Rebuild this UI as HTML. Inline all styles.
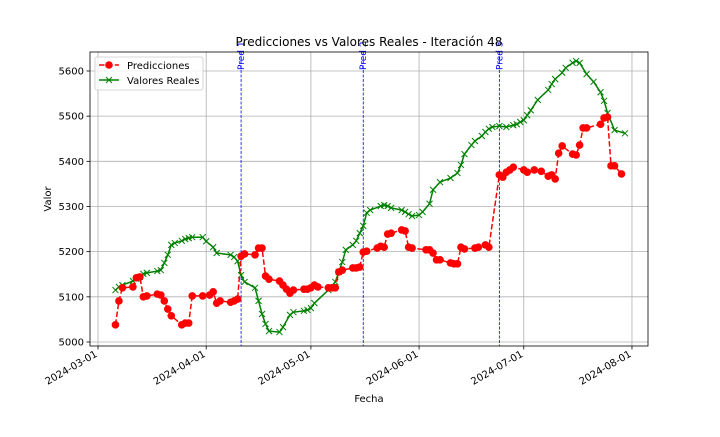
<!DOCTYPE html>
<html><head><meta charset="utf-8"><style>
body{margin:0;background:#fff}
svg{font-family:"DejaVu Sans","Liberation Sans",sans-serif}
</style></head><body>
<svg id="chart" width="720" height="432" xmlns="http://www.w3.org/2000/svg"></svg>
<script>
const predDays=[5,6,7,10,11,12,13,14,17,18,19,20,21,24,25,26,27,30,32,33,34,35,38,39,40,41,42,45,46,47,48,49,52,53,54,55,56,59,60,61,62,63,66,67,68,69,70,73,74,75,76,77,80,81,82,83,84,87,88,89,90,94,95,96,97,98,101,102,103,104,105,108,109,111,112,115,116,117,118,119,122,123,125,127,129,130,131,132,133,136,137,138,139,140,144,145,146,147,148,150];
const predVals=[5038,5091,5120,5122,5142,5144,5100,5102,5106,5104,5091,5073,5058,5038,5042,5042,5102,5102,5104,5111,5086,5091,5088,5091,5095,5190,5195,5193,5208,5208,5146,5139,5135,5126,5117,5108,5115,5117,5117,5120,5126,5122,5120,5120,5120,5155,5159,5164,5164,5166,5199,5201,5208,5212,5210,5239,5241,5248,5246,5210,5208,5204,5204,5197,5182,5182,5175,5173,5173,5210,5206,5208,5210,5215,5210,5370,5365,5376,5381,5387,5381,5376,5381,5378,5367,5370,5361,5418,5434,5416,5414,5436,5474,5474,5482,5496,5498,5390,5390,5372];
const realDays=[5,6,7,10,11,12,13,14,17,18,19,20,21,22,24,25,26,27,30,31,33,34,38,39,40,41,42,45,46,47,48,49,52,53,55,56,59,60,61,62,66,68,69,70,71,73,74,75,76,77,78,81,82,83,84,87,88,89,90,92,93,95,96,98,101,103,104,105,107,108,110,111,112,113,115,117,119,120,121,122,123,124,126,129,130,131,133,134,136,137,138,140,142,144,145,146,148,151];
const realVals=[5115,5122,5126,5135,5140,5144,5151,5153,5157,5159,5175,5193,5215,5219,5224,5228,5230,5232,5232,5223,5210,5197,5193,5188,5179,5148,5133,5120,5091,5062,5040,5024,5022,5033,5060,5066,5069,5071,5075,5086,5115,5133,5155,5177,5204,5215,5224,5241,5257,5286,5292,5301,5303,5301,5297,5292,5288,5283,5279,5281,5288,5306,5337,5354,5363,5374,5392,5416,5436,5445,5456,5465,5472,5476,5478,5476,5480,5482,5487,5491,5502,5513,5536,5558,5571,5582,5596,5607,5618,5622,5618,5593,5576,5553,5534,5507,5469,5462];
const predLineDays=[41,76,115];
const predLabels=["Pred 1","Pred 2","Pred 3"];
const xTickDays=[0,31,61,92,122,153];
const xTickLabels=["2024-03-01","2024-04-01","2024-05-01","2024-06-01","2024-07-01","2024-08-01"];
const yTicks=[5000,5100,5200,5300,5400,5500,5600];

const L=90,R=648,T=52,B=346;
const xS=d=>98+d*3.49;
const yS=v=>342-(v-5000)*0.4517;
const svg=document.getElementById('chart');
const NS='http://www.w3.org/2000/svg';
function mk(tag,attrs,parent){const e=document.createElementNS(NS,tag);for(const k in attrs)e.setAttribute(k,attrs[k]);(parent||svg).appendChild(e);return e;}

const grid=mk('g',{});


xTickDays.forEach((d,i)=>{
  const x=xS(d);
  mk('line',{x1:x,x2:x,y1:T,y2:B,stroke:'#b0b0b0','stroke-width':0.8},grid);
  mk('line',{x1:x,x2:x,y1:B,y2:B+3.5,stroke:'#000','stroke-width':0.8});
  const t=mk('text',{x:x,y:B+10,'font-size':10,'text-anchor':'end',transform:`rotate(-30 ${x} ${B+10})`});
  t.textContent=xTickLabels[i];
  
  
});
yTicks.forEach(v=>{
  const y=yS(v);
  mk('line',{x1:L,x2:R,y1:y,y2:y,stroke:'#b0b0b0','stroke-width':0.8},grid);
  mk('line',{x1:L-3.5,x2:L,y1:y,y2:y,stroke:'#000','stroke-width':0.8});
  const t=mk('text',{x:L-6,y:y+3.5,'font-size':10,'text-anchor':'end'});
  t.textContent=v;
  
  
});

predLineDays.forEach((d,i)=>{
  const x=xS(d);
  const l=mk('line',{x1:x,x2:x,y1:T,y2:B,stroke:'#0000ff','stroke-width':0.8,'stroke-dasharray':'3,1.5'});
  
  
  const t=mk('text',{x:x+3,y:70,'font-size':9,fill:'#0000ff','text-anchor':'start',transform:`rotate(-90 ${x+3} 70)`});
  t.textContent=predLabels[i];
  
  
});

const clip=mk('clipPath',{id:'c'});mk('rect',{x:L,y:T-10,width:R-L,height:B-T+10},clip);

const rp=realDays.map((d,i)=>xS(d)+','+yS(realVals[i])).join(' ');
const rl=mk('polyline',{points:rp,fill:'none',stroke:'#008000','stroke-width':1.5});


realDays.forEach((d,i)=>{
  const x=xS(d),y=yS(realVals[i]);
  const m=mk('path',{d:`M${x-3},${y-3}L${x+3},${y+3}M${x-3},${y+3}L${x+3},${y-3}`,stroke:'#008000','stroke-width':1});
  
  
});
const pp=predDays.map((d,i)=>xS(d)+','+yS(predVals[i])).join(' ');
const pl=mk('polyline',{points:pp,fill:'none',stroke:'#ff0000','stroke-width':1.5,'stroke-dasharray':'5.5,2.4'});


predDays.forEach((d,i)=>{
  const c=mk('circle',{cx:xS(d),cy:yS(predVals[i]),r:3.8,fill:'#ff0000'});
  
  
});

const frame=mk('rect',{x:L,y:T,width:R-L,height:B-T,fill:'none',stroke:'#000','stroke-width':0.8});



const title=mk('text',{x:369,y:46,'font-size':12,'text-anchor':'middle'});
title.textContent='Predicciones vs Valores Reales - Iteración 48';


const xt=mk('text',{x:369,y:402,'font-size':10,'text-anchor':'middle'});
xt.textContent='Fecha';


const yt=mk('text',{x:51,y:199,'font-size':10,'text-anchor':'middle',transform:'rotate(-90 51 199)'});
yt.textContent='Valor';



const lg=mk('g',{});


mk('rect',{x:95,y:57,width:108,height:33,rx:2,fill:'#fff',stroke:'#ccc','stroke-width':0.8,'fill-opacity':0.8},lg);
mk('line',{x1:99,x2:119,y1:65,y2:65,stroke:'#ff0000','stroke-width':1.5,'stroke-dasharray':'5.5,2.4'},lg);
mk('circle',{cx:109,cy:65,r:3.8,fill:'#ff0000'},lg);
const t1=mk('text',{x:127,y:69,'font-size':10},lg);t1.textContent='Predicciones';


mk('line',{x1:99,x2:119,y1:80,y2:80,stroke:'#008000','stroke-width':1.5},lg);
mk('path',{d:'M106,77L112,83M106,83L112,77',stroke:'#008000','stroke-width':1},lg);
const t2=mk('text',{x:127,y:84,'font-size':10},lg);t2.textContent='Valores Reales';


</script>
</body></html>
